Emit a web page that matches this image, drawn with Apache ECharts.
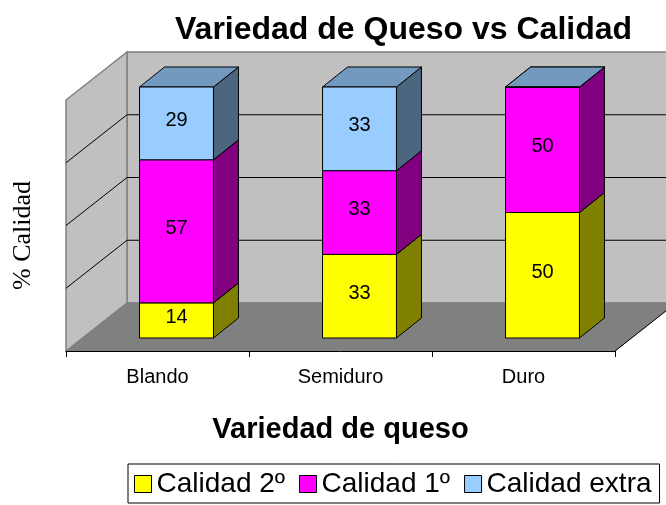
<!DOCTYPE html>
<html>
<head>
<meta charset="UTF-8">
<title>Variedad de Queso vs Calidad</title>
<script src="https://cdn.jsdelivr.net/npm/echarts@6/dist/echarts.min.js"></script>
<style>
  html, body { margin: 0; padding: 0; background: #fff; }
  #chart { width: 666px; height: 505px; }
</style>
</head>
<body>
<div id="chart"></div>
<script type="text/javascript">
    // datos
    var categories = ['Blando', 'Semiduro', 'Duro'];
    var calidad2 = [14, 33, 50];
    var calidad1 = [57, 33, 50];
    var calidadExtra = [29, 33, 0];
    var seriesNames = ['Calidad 2º', 'Calidad 1º', 'Calidad extra'];
    var gridLevels = [25, 50, 75];

    // caras de cada serie: frente, lado, tapa
    var faces = [
        {front: '#ffff00', side: '#808000', top: '#bfbf00'},
        {front: '#ff00ff', side: '#800080', top: '#bf00bf'},
        {front: '#99ccff', side: '#4d6680', top: '#7399bf'}
    ];

    // desplazamientos de profundidad (px) respecto al plano frontal
    var WALL_BACK = [61, -48];
    var BAR_FRONT = [19, -13];
    var BAR_BACK = [44, -33];
    var BAR_RATIO = 0.404;
    var FONT = 'Liberation Sans, Arial, sans-serif';

    var values = [calidad2, calidad1, calidadExtra];
    var totals = categories.map(function (c, i) {
        return values.reduce(function (s, arr) { return s + arr[i]; }, 0);
    });

    // apilado al 100%
    var stacked = [];
    var acc = categories.map(function () { return 0; });
    values.forEach(function (arr) {
        stacked.push(arr.map(function (v, i) {
            var lo = acc[i];
            acc[i] += v / totals[i] * 100;
            return [i, lo, acc[i], v];
        }));
    });

    function barRender(f) {
        return function (params, api) {
            var i = api.value(0), lo = api.value(1), hi = api.value(2), raw = api.value(3);
            var pLo = api.coord([i, lo]), pHi = api.coord([i, hi]);
            var hw = api.size([1, 0])[0] * BAR_RATIO / 2;
            var xl = pLo[0] + BAR_FRONT[0] - hw, xr = pLo[0] + BAR_FRONT[0] + hw;
            var yb = pLo[1] + BAR_FRONT[1], yt = pHi[1] + BAR_FRONT[1];
            var dx = BAR_BACK[0] - BAR_FRONT[0], dy = BAR_BACK[1] - BAR_FRONT[1];
            var children = [
                {type: 'polygon', shape: {points: [[xr, yt], [xr + dx, yt + dy], [xr + dx, yb + dy], [xr, yb]]},
                    style: {fill: f.side, stroke: '#000', lineWidth: 1}},
                {type: 'polygon', shape: {points: [[xl, yt], [xr, yt], [xr + dx, yt + dy], [xl + dx, yt + dy]]},
                    style: {fill: f.top, stroke: '#000', lineWidth: 1}},
                {type: 'rect', shape: {x: xl, y: yt, width: xr - xl, height: yb - yt},
                    style: {fill: f.front, stroke: '#000', lineWidth: 1}}
            ];
            if (raw > 0) {
                children.push({type: 'text', x: (xl + xr) / 2, y: (yt + yb) / 2 - 3,
                    style: {text: String(raw), fill: '#000', fontSize: 20, fontFamily: FONT,
                        align: 'center', verticalAlign: 'middle'}});
            }
            return {type: 'group', children: children};
        };
    }

    // muro del fondo, muro izquierdo y suelo, a partir del plano frontal
    function wallRender(params, api) {
        var cs = params.coordSys;
        var fx = cs.x, fy = cs.y, fb = cs.y + cs.height, w = cs.width;
        var dx = WALL_BACK[0], dy = WALL_BACK[1];
        var children = [
            // fondo
            {type: 'polygon', shape: {points: [[fx + dx, fy + dy], [fx + dx + w, fy + dy], [fx + dx + w, fb + dy], [fx + dx, fb + dy]]},
                style: {fill: '#c0c0c0', stroke: '#808080', lineWidth: 1.5}},
            // izquierdo
            {type: 'polygon', shape: {points: [[fx, fy], [fx + dx, fy + dy], [fx + dx, fb + dy], [fx, fb]]},
                style: {fill: '#c0c0c0', stroke: '#808080', lineWidth: 1.5}},
            // suelo
            {type: 'polygon', shape: {points: [[fx, fb], [fx + w, fb], [fx + w + dx, fb + dy], [fx + dx, fb + dy]]},
                style: {fill: '#808080', stroke: '#808080', lineWidth: 1}},
            {type: 'line', shape: {x1: fx + w, y1: fb, x2: fx + w + dx, y2: fb + dy},
                style: {stroke: '#000', lineWidth: 1}}
        ];
        gridLevels.forEach(function (v) {
            var y = api.coord([0, v])[1];
            children.push({type: 'line', shape: {x1: fx, y1: y, x2: fx + dx, y2: y + dy},
                style: {stroke: '#000', lineWidth: 1}});
            children.push({type: 'line', shape: {x1: fx + dx, y1: y + dy, x2: fx + dx + w, y2: y + dy},
                style: {stroke: '#000', lineWidth: 1}});
        });
        return {type: 'group', children: children};
    }

    var chart = echarts.init(document.getElementById('chart'));

    var series = [{
        type: 'custom',
        name: 'muros',
        z: 1,
        silent: true,
        clip: false,
        renderItem: wallRender,
        data: [[0, 0]]
    }];
    stacked.forEach(function (d, k) {
        series.push({
            type: 'custom',
            name: seriesNames[k],
            z: 3,
            clip: false,
            itemStyle: {color: faces[k].front},
            renderItem: barRender(faces[k]),
            data: d
        });
    });

    chart.setOption({
        animation: false,
        backgroundColor: '#fff',
        title: {
            text: 'Variedad de Queso vs Calidad',
            left: 170,
            top: 9,
            textStyle: {fontSize: 32, fontWeight: 'bold', color: '#000', fontFamily: FONT}
        },
        legend: {
            data: seriesNames,
            left: 128,
            bottom: 2,
            icon: 'rect',
            itemWidth: 17,
            itemHeight: 17,
            itemGap: 14,
            padding: [6, 8, 5, 6],
            borderColor: '#000',
            borderWidth: 1,
            itemStyle: {borderColor: '#000', borderWidth: 1},
            textStyle: {fontSize: 28, color: '#000', fontFamily: FONT}
        },
        grid: {left: 66, top: 100, width: 549, height: 251},
        xAxis: {
            type: 'category', data: categories, z: 5,
            axisLine: {lineStyle: {color: '#000', width: 1}},
            axisTick: {show: true, length: 6, lineStyle: {color: '#000'}},
            axisLabel: {fontSize: 20, color: '#000', margin: 16, fontFamily: FONT},
            name: 'Variedad de queso',
            nameLocation: 'middle',
            nameGap: 64,
            nameTextStyle: {fontSize: 29, fontWeight: 'bold', color: '#000', fontFamily: FONT}
        },
        yAxis: {
            type: 'value', min: 0, max: 100, interval: 25,
            axisLine: {show: false}, axisTick: {show: false}, axisLabel: {show: false},
            splitLine: {show: false},
            name: '% Calidad',
            nameLocation: 'middle',
            nameRotate: 90,
            nameGap: 30,
            nameTextStyle: {fontSize: 26, color: '#000', fontFamily: 'Liberation Serif, Times New Roman, serif',
                padding: [0, 20, 0, 0]}
        },
        series: series
    });
</script>
</body>
</html>
